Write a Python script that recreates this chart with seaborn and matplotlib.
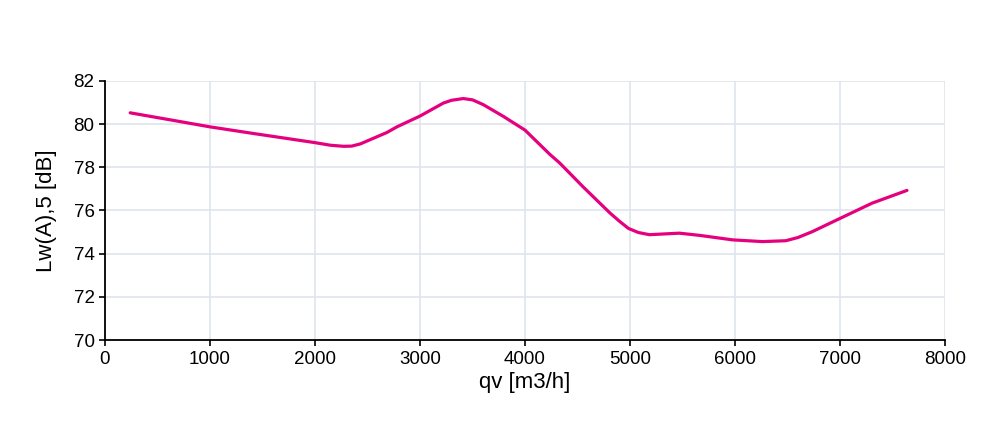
import matplotlib
matplotlib.use("Agg")
import matplotlib.pyplot as plt
import seaborn as sns
import pandas as pd

qv = [240, 627, 1000, 1418, 2000, 2146, 2273, 2350, 2431, 2685, 2780, 3000, 3222, 3300, 3412, 3500,
      3602, 3792, 4000, 4236, 4330, 4552, 4810, 4900, 4985, 5080, 5185, 5470, 5660, 5977, 6261, 6483,
      6600, 6736, 6973, 7306, 7638]
lw = [80.52, 80.19, 79.87, 79.56, 79.14, 79.02, 78.97, 78.98, 79.08, 79.61, 79.87, 80.37, 80.97, 81.1, 81.18, 81.12,
      80.9, 80.36, 79.72, 78.6, 78.2, 77.1, 75.88, 75.5, 75.17, 74.98, 74.88, 74.95, 74.85, 74.64, 74.56, 74.6,
      74.75, 75.02, 75.57, 76.34, 76.93]
x_ticks = [0, 1000, 2000, 3000, 4000, 5000, 6000, 7000, 8000]
y_ticks = [70, 72, 74, 76, 78, 80, 82]

sns.set_theme(style="white")
plt.rcParams['font.family'] = ['Liberation Sans', 'DejaVu Sans']

df = pd.DataFrame({"qv": qv, "Lw": lw})

fig = plt.figure(figsize=(10, 4.3), dpi=100)
ax = fig.add_axes([0.105, 0.209, 0.84, 0.603])
sns.lineplot(data=df, x="qv", y="Lw", ax=ax, color="#E5007D", linewidth=2.3)
ax.lines[0].set_solid_joinstyle("round")
ax.lines[0].set_solid_capstyle("round")

ax.set_xlim(0, 8000)
ax.set_ylim(70, 82)
ax.set_xticks(x_ticks)
ax.set_yticks(y_ticks)
ax.grid(True, color="#dfe5ee", linewidth=1.2)
ax.set_axisbelow(True)
for s in ["top", "right"]:
    ax.spines[s].set_visible(False)
for s in ["left", "bottom"]:
    ax.spines[s].set_color("black")
    ax.spines[s].set_linewidth(1.3)
ax.tick_params(axis="both", direction="out", length=4.5, width=1.2, color="black",
               labelsize=13.5, labelcolor="black", left=True, bottom=True, pad=3)
ax.set_xlabel("qv [m3/h]", fontsize=16, color="black", labelpad=3)
ax.set_ylabel("Lw(A),5 [dB]", fontsize=16, color="black", labelpad=12)

fig.savefig("out.png", dpi=100)
